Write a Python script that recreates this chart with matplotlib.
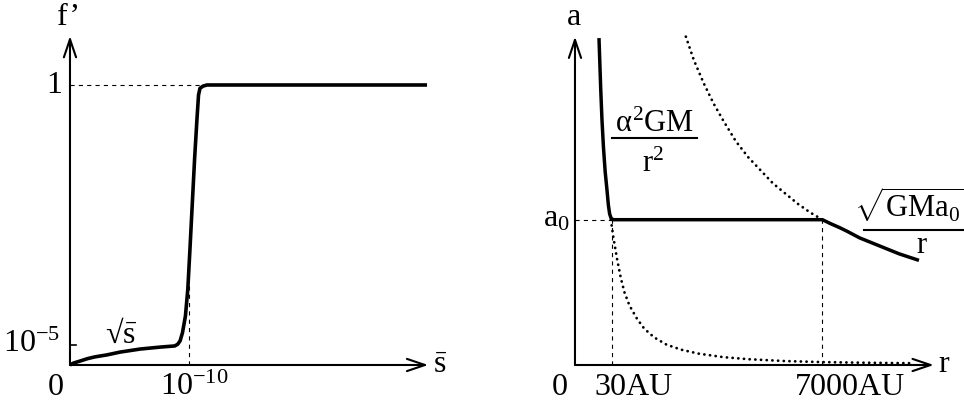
import matplotlib
matplotlib.use("Agg")
from matplotlib import pyplot as plt

plt.rcParams['font.family'] = ['Liberation Serif', 'DejaVu Serif']
plt.rcParams['mathtext.fontset'] = 'custom'
plt.rcParams['mathtext.rm'] = 'Liberation Serif'
plt.rcParams['mathtext.it'] = 'Liberation Serif'
plt.rcParams['mathtext.bf'] = 'Liberation Serif:bold'
plt.rcParams['lines.scale_dashes'] = False

# left panel: f' against s-bar (x unit: 10^-10 mark = 1, y unit: level "1" = 1)
s_vals = [0.0, 0.03, 0.084, 0.15, 0.21, 0.31, 0.42, 0.59, 0.76, 0.88, 0.905, 0.925,
          0.945, 0.97, 0.99, 1.008, 1.047, 1.067, 1.08, 1.092, 1.118, 1.151, 3.0]
fp_vals = [0.0, 0.007, 0.014, 0.023, 0.029, 0.036, 0.046, 0.057, 0.064, 0.068, 0.074, 0.086,
           0.115, 0.175, 0.271, 0.414, 0.736, 0.879, 0.964, 0.988, 0.996, 1.0, 1.0]
s_mark = 1.0        # 10^-10
fp_low = 0.071      # 10^-5
fp_high = 1.0       # 1
s_axis_end = 3.01
fp_axis_end = 1.175

# right panel: a against r (x unit: 7000AU = 1, y unit: a0 = 1)
r_vals = [0.097, 0.100, 0.104, 0.109, 0.115, 0.122, 0.129, 0.135, 0.140, 0.146,
          0.155, 0.165, 1.0, 1.03, 1.07, 1.10, 1.15, 1.23, 1.31, 1.39]
a_vals = [2.25, 2.10, 1.90, 1.69, 1.50, 1.33, 1.21, 1.10, 1.04, 1.01,
          1.0, 1.0, 1.0, 0.975, 0.945, 0.92, 0.875, 0.82, 0.765, 0.72]
r_mond = [0.448, 0.48, 0.52, 0.56, 0.60, 0.65, 0.70, 0.75, 0.80, 0.85, 0.90, 0.95, 1.0]
a_mond = [2.26, 2.10, 1.94, 1.80, 1.68, 1.54, 1.43, 1.34, 1.25, 1.18, 1.11, 1.05, 1.0]
r_newt = [0.145, 0.155, 0.17, 0.185, 0.20, 0.22, 0.25, 0.28, 0.32, 0.37, 0.43,
          0.50, 0.60, 0.70, 0.85, 1.0, 1.15, 1.37]
a_newt = [1.0, 0.88, 0.73, 0.60, 0.50, 0.41, 0.32, 0.25, 0.19, 0.14, 0.105,
          0.078, 0.054, 0.040, 0.027, 0.020, 0.016, 0.012]
r_30au = 0.15
r_7000au = 1.0
a_0 = 1.0
r_axis_end = 1.45
a_axis_end = 2.26

fs = 23
ffs = 22
dash = (0, (3, 3))
dot = (0, (0.1, 4.0))

fig = plt.figure(figsize=(9.64, 4.02), dpi=100)
ax1 = fig.add_axes([20 / 964, 0, 440 / 964, 1])
ax2 = fig.add_axes([500 / 964, 0, 464 / 964, 1])
ax1.set_xlim(-0.420, 3.277)
ax1.set_ylim(-0.1286, 1.3071)
ax2.set_xlim(-0.303, 1.572)
ax2.set_ylim(-0.2478, 2.519)
for ax in (ax1, ax2):
    ax.axis('off')

arrow = dict(arrowstyle='->, head_length=0.65, head_width=0.22', lw=1.5,
             color='black', mutation_scale=20, shrinkA=0, shrinkB=0)

# ---- left ----
ax1.annotate('', xy=(s_axis_end, 0), xytext=(0, 0), arrowprops=arrow)
ax1.annotate('', xy=(0, fp_axis_end), xytext=(0, 0), arrowprops=arrow)
ax1.plot([0, 1.13], [fp_high, fp_high], color='black', lw=0.8, linestyle=dash)
ax1.plot([s_mark, s_mark], [0, 0.296], color='black', lw=0.8, linestyle=dash)
ax1.plot([0, 0.05], [fp_low, fp_low], color='black', lw=1.2)
ax1.plot(s_vals, fp_vals, color='black', lw=2.6, solid_capstyle='butt',
         solid_joinstyle='round')

ax1.text(-0.01, 1.246, 'f\u2019', fontsize=fs, ha='center', va='center')
ax1.text(-0.067, 0.975, '1', fontsize=fs, ha='right', va='baseline')
ax1.text(-0.084, 0.05, r'$10^{-5}$', fontsize=fs, ha='right', va='baseline')
ax1.text(-0.122, -0.1036, '0', fontsize=fs, ha='center', va='baseline')
ax1.text(0.756, -0.1036, r'$10^{-10}$', fontsize=fs, ha='left', va='baseline')
ax1.text(3.05, -0.025, r'$\bar{\mathrm{s}}$', fontsize=fs, ha='left', va='baseline')
ax1.text(0.294, 0.082, '$\u221a\\bar{\\mathrm{s}}$', fontsize=fs, ha='left', va='baseline')

# ---- right ----
ax2.annotate('', xy=(r_axis_end, 0), xytext=(0, 0), arrowprops=arrow)
ax2.annotate('', xy=(0, a_axis_end), xytext=(0, 0), arrowprops=arrow)
ax2.plot([0, r_30au], [a_0, a_0], color='black', lw=0.8, linestyle=dash)
ax2.plot([r_30au, r_30au], [0, a_0], color='black', lw=0.8, linestyle=dash)
ax2.plot([r_7000au, r_7000au], [0, a_0], color='black', lw=0.8, linestyle=dash)
ax2.plot(r_mond, a_mond, color='black', lw=2.0, linestyle=dot, dash_capstyle='round')
ax2.plot(r_newt, a_newt, color='black', lw=2.0, linestyle=dot, dash_capstyle='round')
ax2.plot(r_vals, a_vals, color='black', lw=2.5, solid_capstyle='butt',
         solid_joinstyle='round')

ax2.text(-0.004, 2.347, 'a', fontsize=fs, ha='center', va='baseline')
ax2.text(-0.02, 0.957, r'$\mathrm{a}_0$', fontsize=fs, ha='right', va='baseline')
ax2.text(-0.061, -0.2, '0', fontsize=fs, ha='center', va='baseline')
ax2.text(0.238, -0.2, '30AU', fontsize=fs, ha='center', va='baseline')
ax2.text(1.111, -0.2, '7000AU', fontsize=fs, ha='center', va='baseline')
ax2.text(1.467, -0.041, 'r', fontsize=fs, ha='left', va='baseline')

# fraction labels: numerator, bar, denominator
ax2.text(0.321, 1.610, r'$\alpha^2\mathrm{GM}$', fontsize=ffs, ha='center', va='baseline')
ax2.plot([0.150, 0.493], [1.562, 1.562], color='black', lw=1.5)
ax2.text(0.315, 1.335, r'$\mathrm{r}^2$', fontsize=ffs, ha='center', va='baseline')

ax2.text(1.354, 1.025, r'$\sqrt{\mathrm{GMa}_0}$', fontsize=ffs, ha='center', va='baseline')
ax2.plot([1.166, 1.572], [0.929, 0.929], color='black', lw=1.5)
ax2.text(1.402, 0.778, 'r', fontsize=ffs, ha='center', va='baseline')

fig.savefig('out.png', dpi=100)
